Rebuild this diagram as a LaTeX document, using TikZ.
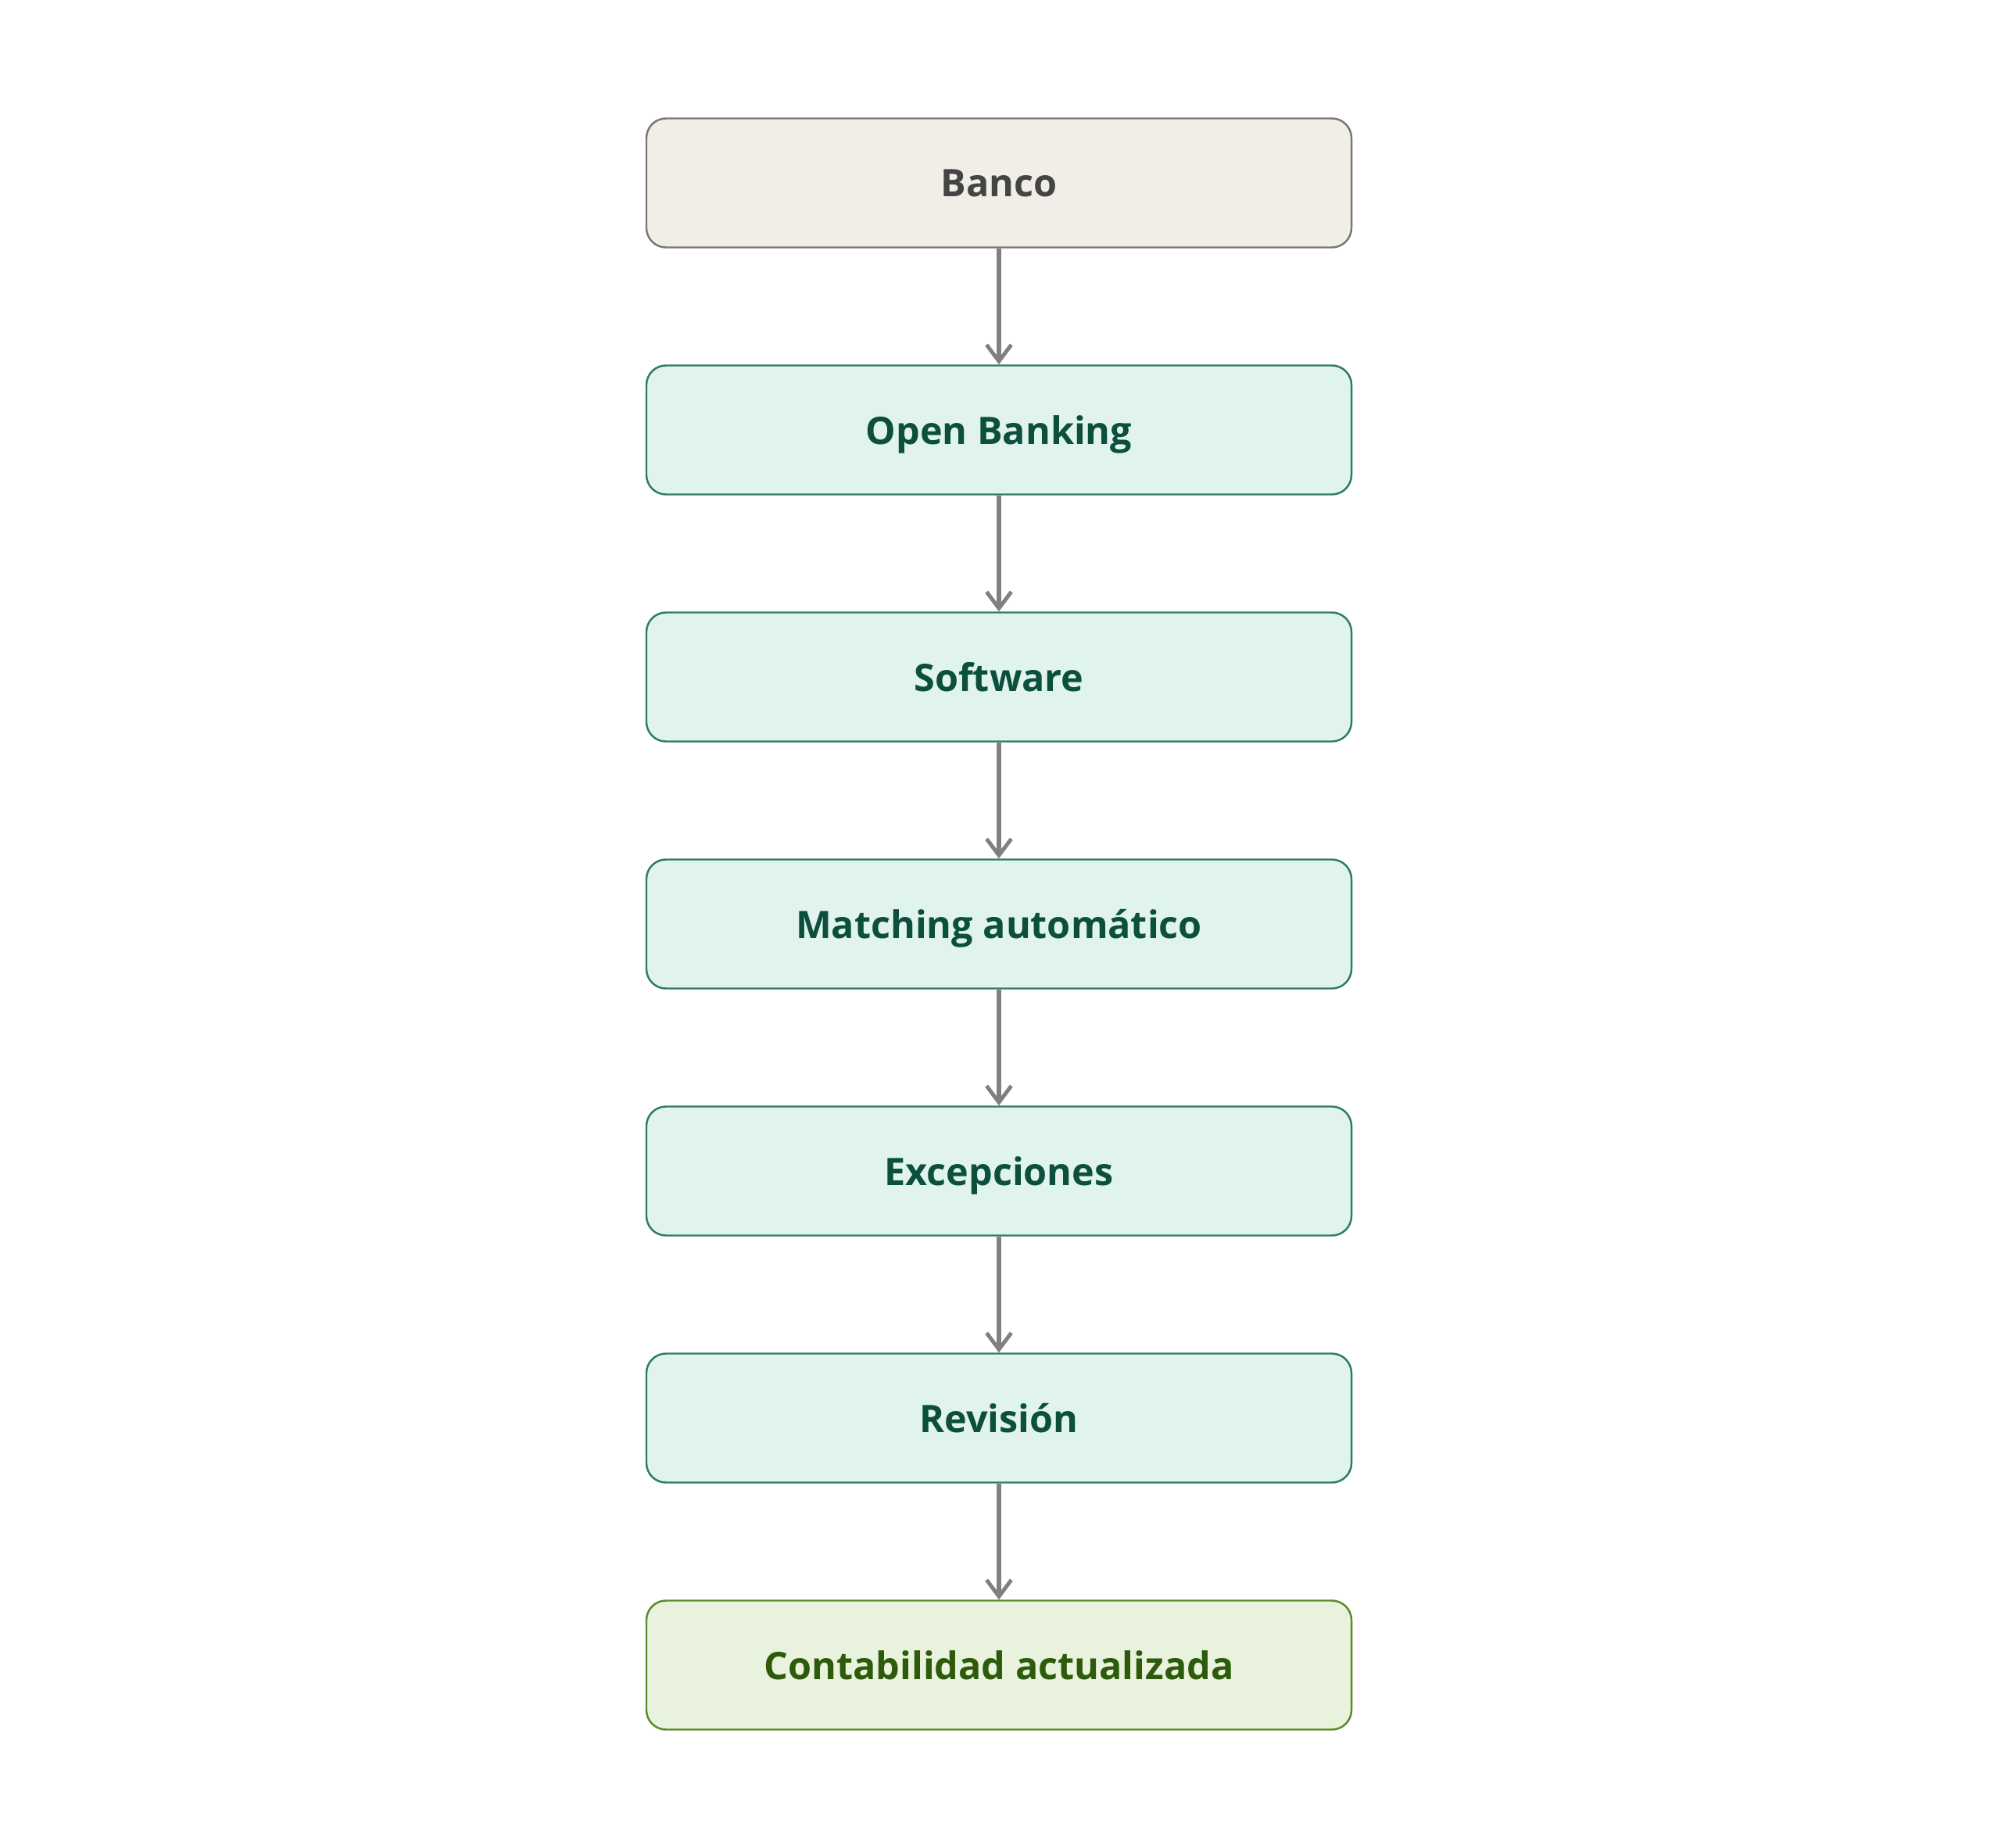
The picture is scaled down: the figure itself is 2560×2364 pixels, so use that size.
\documentclass[tikz,border=0pt]{standalone}
\usepackage{fontspec}
\setmainfont{Open Sans}
\usetikzlibrary{arrows.meta}
\definecolor{bankfill}{HTML}{F1EEE8}
\definecolor{bankdraw}{HTML}{7A7772}
\definecolor{banktext}{HTML}{444444}
\definecolor{gfill}{HTML}{E0F3EC}
\definecolor{gdraw}{HTML}{2E7D5B}
\definecolor{gtext}{HTML}{0B4F3C}
\definecolor{lfill}{HTML}{E8F2DC}
\definecolor{ldraw}{HTML}{5A8A2A}
\definecolor{ltext}{HTML}{2D5A0B}
\definecolor{arrowgray}{HTML}{808080}
\tikzset{
  box/.style={rectangle, rounded corners=25*0.01cm, minimum width=902*0.01cm, minimum height=165*0.01cm, line width=0.7pt, font=\fontsize{13.8}{16}\selectfont\bfseries, inner sep=0pt, text depth=-2pt},
  bankbox/.style={box, fill=bankfill, draw=bankdraw, text=banktext},
  gbox/.style={box, fill=gfill, draw=gdraw, text=gtext},
  lbox/.style={box, fill=lfill, draw=ldraw, text=ltext},
  conn/.style={draw=arrowgray, line width=1.5pt, -{Straight Barb[length=6pt,width=9pt,line width=1.4pt]}}
}
\begin{document}
\begin{tikzpicture}[x=0.01cm,y=-0.01cm]
\useasboundingbox (0,0) rectangle (2560,2364);
\node[bankbox] (n1) at (1278,234) {Banco};
\node[gbox] (n2) at (1278,550) {Open Banking};
\node[gbox] (n3) at (1278,866) {Software};
\node[gbox] (n4) at (1278,1182) {Matching automático};
\node[gbox] (n5) at (1278,1498) {Excepciones};
\node[gbox] (n6) at (1278,1814) {Revisión};
\node[lbox] (n7) at (1278,2130) {Contabilidad actualizada};
\foreach \a/\b in {n1/n2,n2/n3,n3/n4,n4/n5,n5/n6,n6/n7}
  \draw[conn] (\a.south) -- (\b.north);
\end{tikzpicture}
\end{document}
